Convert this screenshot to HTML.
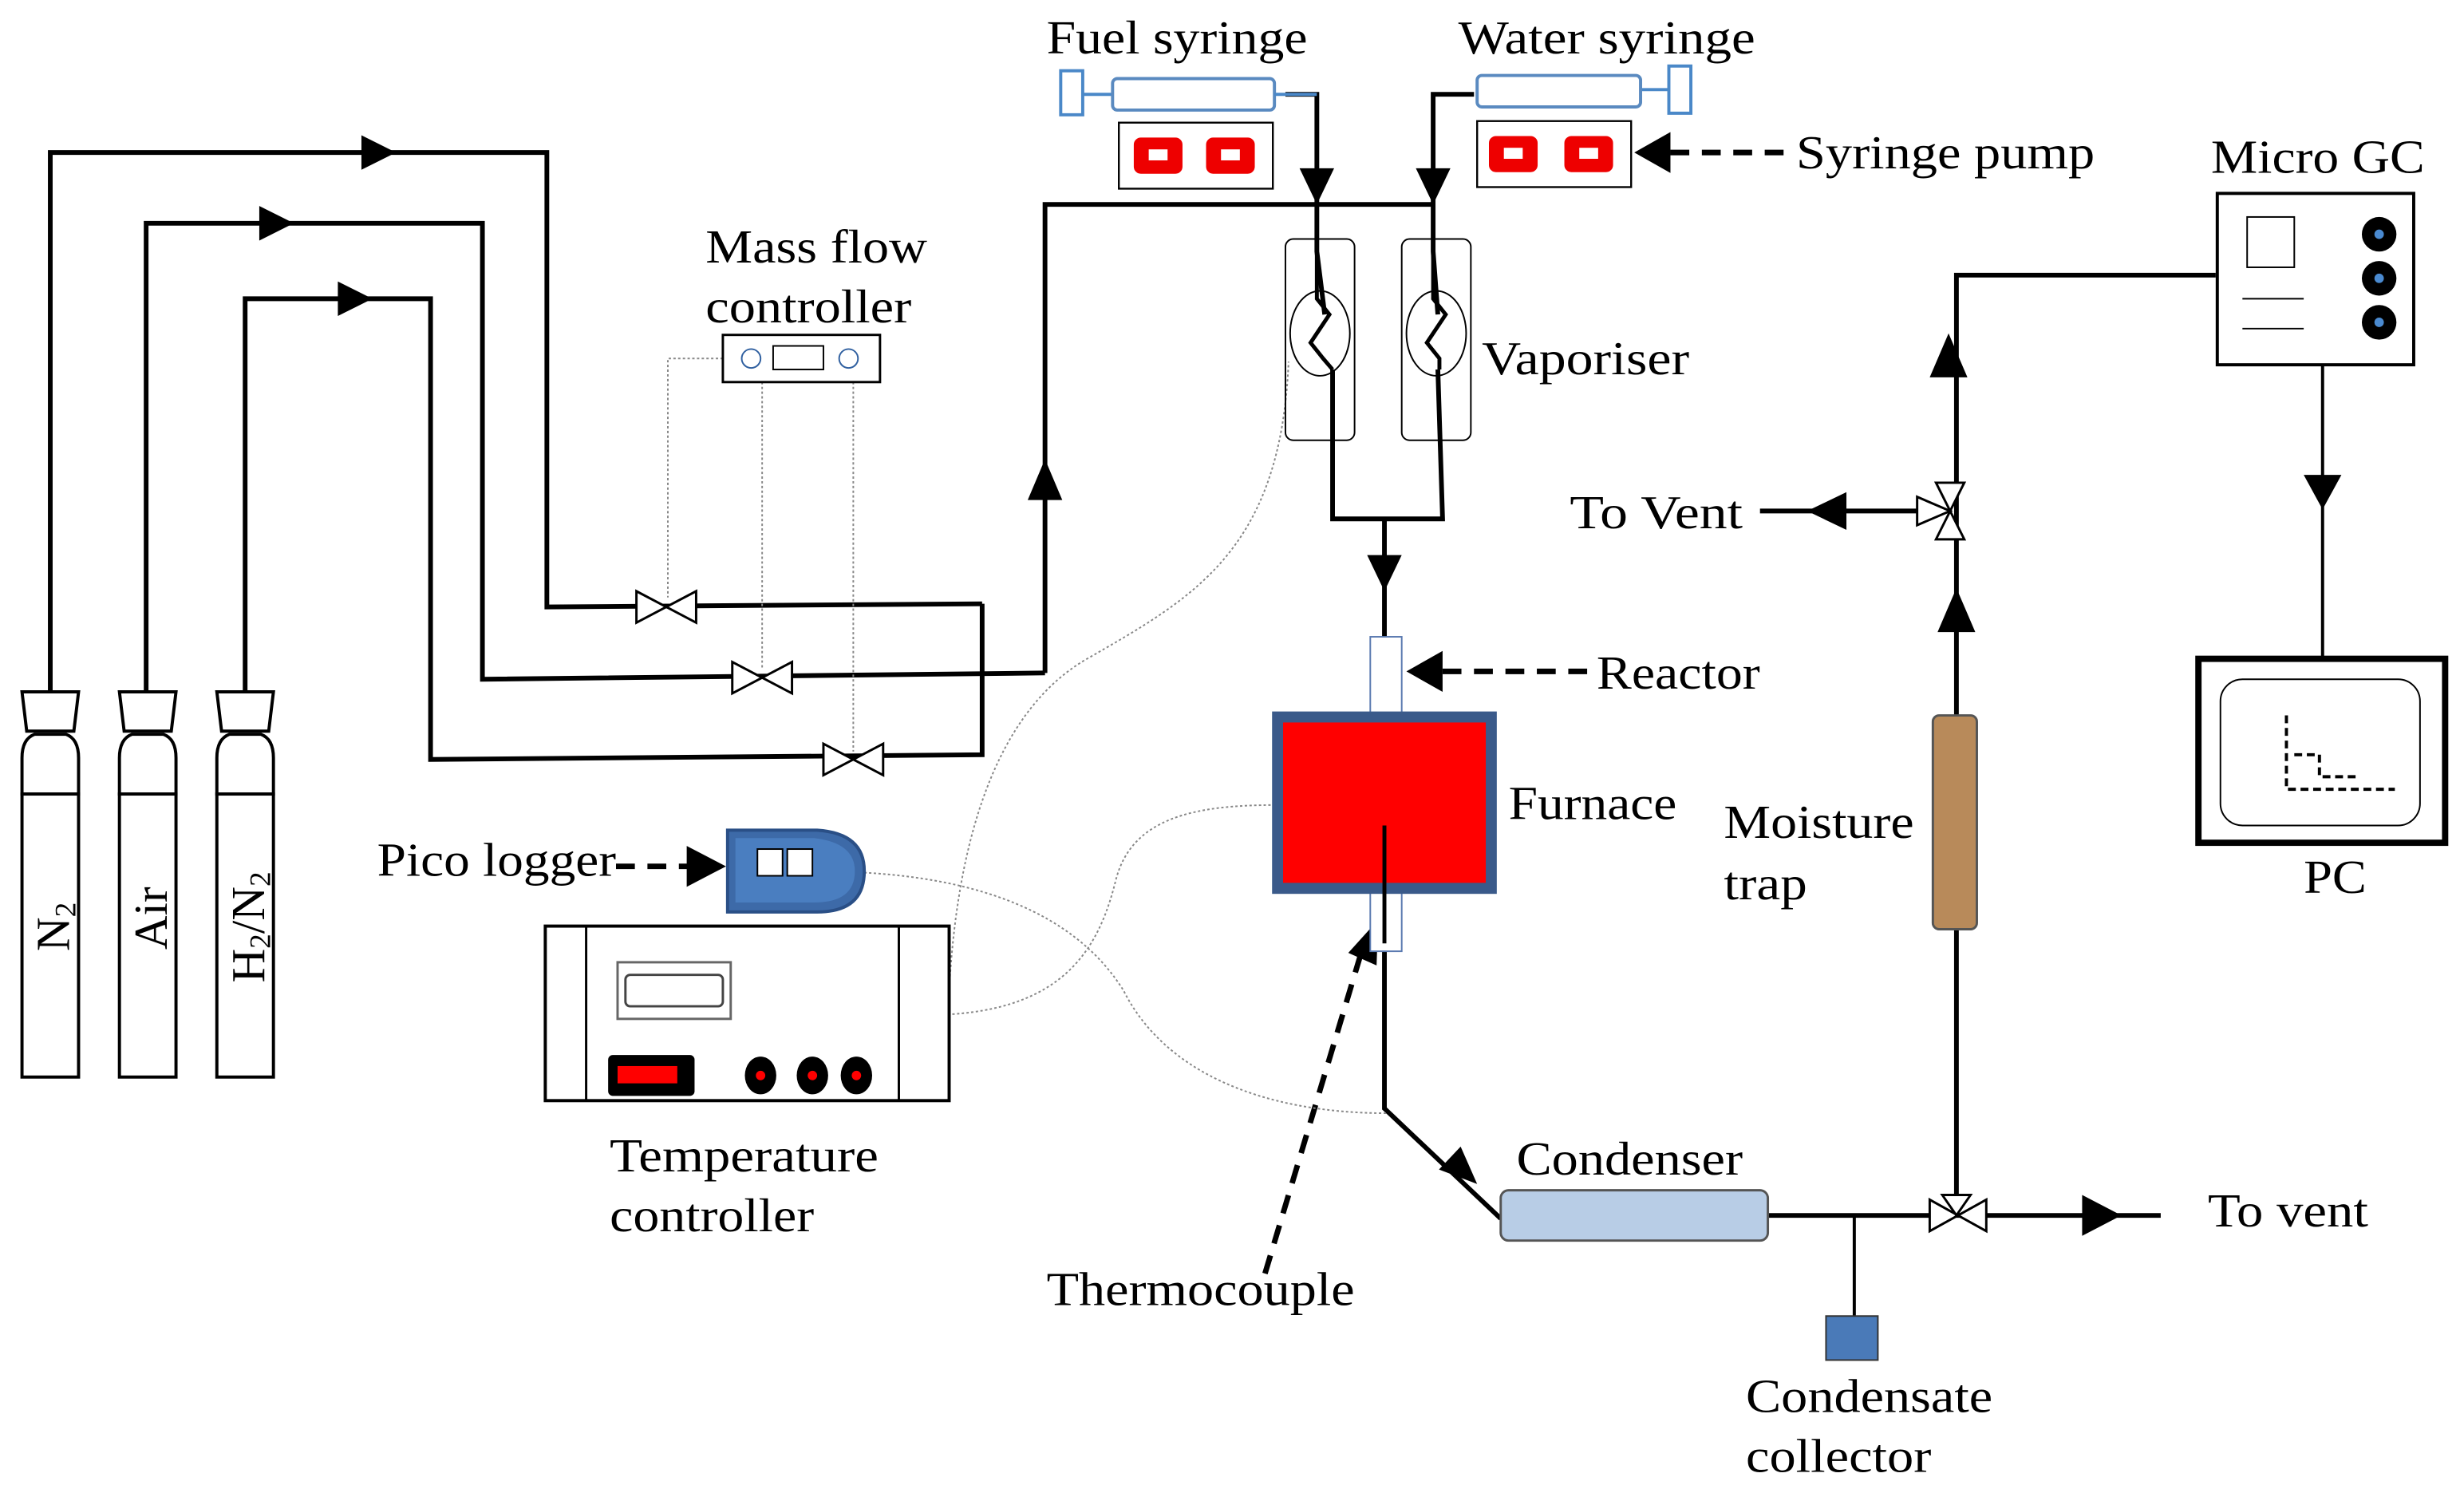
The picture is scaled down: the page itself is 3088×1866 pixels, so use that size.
<!DOCTYPE html>
<html><head><meta charset="utf-8"><style>html,body{margin:0;padding:0;background:#fff}svg{display:block}text{font-family:"Liberation Serif",serif}</style></head>
<body>
<svg width="3088" height="1866" viewBox="0 0 1568 947" preserveAspectRatio="none" xmlns="http://www.w3.org/2000/svg" style="font-family:'Liberation Serif',serif" font-size="30">
<g fill="none" stroke="#000" stroke-width="3">
<polyline points="32,440 32,97 348,97 348,386 625,384"/>
<polyline points="93,440 93,142 307,142 307,432 665,428"/>
<polyline points="156,440 156,190 274,190 274,483 625,480 625,384"/>
<polyline points="665,428 665,130 912,130"/>
<polyline points="818,60 838,60 838,130 838,160 843,200"/>
<polyline points="938,60 912,60 912,130 912,160 915,200"/>
<polyline points="848,235 848,330 918,330 915,235"/>
<line x1="881" y1="330" x2="881" y2="405"/>
<polyline points="881,525 881,705 955,775"/>
<line x1="1125" y1="773" x2="1375" y2="773"/>
<line x1="1180" y1="773" x2="1180" y2="837" stroke-width="2"/>
<polyline points="1245,760 1245,175 1410,175"/>
<line x1="1478" y1="232" x2="1478" y2="418" stroke-width="2"/>
<line x1="1120" y1="325" x2="1230" y2="325"/>
</g>
<g fill="#000">
<path d="M230,86 L252,97 L230,108z"/>
<path d="M165,131 L187,142 L165,153z"/>
<path d="M215,179 L237,190 L215,201z"/>
<path d="M654,318 L665,292 L676,318z"/>
<path d="M827,107 L838,130 L849,107z"/>
<path d="M901,107 L912,130 L923,107z"/>
<path d="M870,353 L881,376 L892,353z"/>
<path d="M1228,240 L1240,212 L1252,240z"/>
<path d="M1233,402 L1245,374 L1257,402z"/>
<path d="M1175,313 L1150,325 L1175,337z"/>
<path d="M1466,302 L1478,324 L1490,302z"/>
<path d="M1325,760 L1350,773 L1325,786z"/>
<path d="M940,753 L915.7,743.8 L929.5,729.2z"/>
</g>
<g stroke="#000" stroke-width="3.5" stroke-dasharray="12,8" fill="none">
<line x1="1135" y1="97" x2="1060" y2="97"/>
<line x1="1010" y1="427" x2="915" y2="427"/>
<line x1="392" y1="551" x2="440" y2="551"/>
<line x1="805" y1="810" x2="868" y2="600"/>
</g>
<g fill="#000">
<path d="M1063,84 L1040,97 L1063,110z"/>
<path d="M918,414 L895,427 L918,440z"/>
<path d="M437,538 L462,551 L437,564z"/>
<path d="M858,606 L877,585 L876,614z"/>
</g>
<g fill="#fff" stroke="#000" stroke-width="1.5">
<path d="M405,376 L405,396 L443,376 L443,396z"/>
<path d="M466,421 L466,441 L504,421 L504,441z"/>
<path d="M524,473 L524,493 L562,473 L562,493z"/>
<path d="M1228,763 L1228,783 L1264,763 L1264,783z"/>
<path d="M1236,760 L1254,760 L1245,773z"/>
<path d="M1232,307 L1250,307 L1241,325 L1232,343 L1250,343z"/>
<path d="M1220,316 L1220,334 L1241,325z"/>
</g>
<g fill="none" stroke="#888" stroke-width="1" stroke-dasharray="1.5,1.5">
<polyline points="460,228 425,228 425,380"/>
<line x1="485" y1="243" x2="485" y2="425"/>
<line x1="543" y1="243" x2="543" y2="478"/>
<path d="M604,630 C610,520 640,450 690,420 C760,380 815,350 820,230"/>
<path d="M606,645 C680,640 700,600 710,560 C720,520 760,512 812,512"/>
<path d="M550,555 C640,560 690,590 715,630 C740,680 800,708 883,708"/>
</g>
<rect x="460" y="213" width="100" height="30" fill="#fff" stroke="#000" stroke-width="1.5"/>
<circle cx="478" cy="228" r="6" fill="#fff" stroke="#3060a0"/>
<circle cx="540" cy="228" r="6" fill="#fff" stroke="#3060a0"/>
<rect x="492" y="220" width="32" height="15" fill="#fff" stroke="#000"/>
<g stroke="#4a88c8" stroke-width="2" fill="#fff">
<rect x="675" y="45" width="14" height="28"/>
<line x1="689" y1="60" x2="708" y2="60"/>
<rect x="708" y="50" width="103" height="20" rx="3" stroke="#5a8ac0"/>
<line x1="811" y1="60" x2="838" y2="60"/>
<rect x="1062" y="42" width="14" height="30"/>
<line x1="1044" y1="57" x2="1062" y2="57"/>
<rect x="940" y="48" width="104" height="20" rx="3" stroke="#5a8ac0"/>
</g>
<g stroke="#000" stroke-width="1.2" fill="#fff">
<rect x="712" y="78" width="98" height="42"/>
<rect x="940" y="77" width="98" height="42"/>
</g>
<g fill="#e00" stroke="#e00">
<rect x="722" y="88" width="30" height="22" rx="4"/><rect x="768" y="88" width="30" height="22" rx="4"/>
<rect x="948" y="87" width="30" height="22" rx="4"/><rect x="996" y="87" width="30" height="22" rx="4"/>
</g>
<g fill="#fff"><rect x="731" y="95" width="12" height="7"/><rect x="777" y="95" width="12" height="7"/><rect x="957" y="94" width="12" height="7"/><rect x="1005" y="94" width="12" height="7"/></g>
<g fill="none" stroke="#000" stroke-width="1">
<rect x="818" y="152" width="44" height="128" rx="5"/>
<rect x="892" y="152" width="44" height="128" rx="5"/>
<ellipse cx="840" cy="212" rx="19" ry="27"/>
<ellipse cx="914" cy="212" rx="19" ry="27"/>
</g>
<g fill="none" stroke="#000" stroke-width="2.5">
<polyline points="838,160 838,190 846,200 834,218 842,228 848,235"/>
<polyline points="912,160 912,190 920,200 908,218 916,228 916,235"/>
</g>
<rect x="872" y="405" width="20" height="200" fill="#fff" stroke="#5a7ab0" stroke-width="1"/>
<rect x="813" y="456" width="136" height="109" fill="#f00" stroke="#3a5a8a" stroke-width="7"/>
<line x1="881" y1="525" x2="881" y2="600" stroke="#000" stroke-width="2.5"/>
<rect x="955" y="757" width="170" height="32" rx="5" fill="#b8cde6" stroke="#555" stroke-width="1.5"/>
<rect x="1162" y="837" width="33" height="28" fill="#4a7ab8" stroke="#333" stroke-width="1"/>
<rect x="1230" y="455" width="28" height="136" rx="4" fill="#b88a5a" stroke="#555" stroke-width="1.5"/>
<rect x="1411" y="123" width="125" height="109" fill="#fff" stroke="#000" stroke-width="2"/>
<rect x="1430" y="138" width="30" height="32" fill="#fff" stroke="#000"/>
<line x1="1427" y1="190" x2="1466" y2="190" stroke="#000"/><line x1="1427" y1="209" x2="1466" y2="209" stroke="#000"/>
<g fill="#000"><circle cx="1514" cy="149" r="11"/><circle cx="1514" cy="177" r="11"/><circle cx="1514" cy="205" r="11"/></g>
<g fill="#4a8ad0"><circle cx="1514" cy="149" r="3"/><circle cx="1514" cy="177" r="3"/><circle cx="1514" cy="205" r="3"/></g>
<rect x="1399" y="419" width="157" height="117" fill="#fff" stroke="#000" stroke-width="4"/>
<rect x="1413" y="432" width="127" height="93" rx="14" fill="#fff" stroke="#000" stroke-width="1"/>
<polyline points="1455,455 1455,502 1524,502" fill="none" stroke="#000" stroke-width="2" stroke-dasharray="5,3"/>
<polyline points="1460,480 1476,480 1476,494 1500,494" fill="none" stroke="#000" stroke-width="2" stroke-dasharray="5,3"/>
<g fill="#fff" stroke="#000" stroke-width="2">
<g><path d="M14,440 L50,440 L47,465 L17,465z"/><path d="M14,505 L14,482 Q14,470 22,467 L42,467 Q50,470 50,482 L50,505z"/><rect x="14" y="505" width="36" height="180"/></g>
<g><path d="M76,440 L112,440 L109,465 L79,465z"/><path d="M76,505 L76,482 Q76,470 84,467 L104,467 Q112,470 112,482 L112,505z"/><rect x="76" y="505" width="36" height="180"/></g>
<g><path d="M138,440 L174,440 L171,465 L141,465z"/><path d="M138,505 L138,482 Q138,470 146,467 L166,467 Q174,470 174,482 L174,505z"/><rect x="138" y="505" width="36" height="180"/></g>
</g>
<g font-size="30">
<text transform="translate(44,605) rotate(-90)">N<tspan font-size="19" dy="4">2</tspan></text>
<text transform="translate(106,604) rotate(-90)">Air</text>
<text transform="translate(168,625) rotate(-90)">H<tspan font-size="19" dy="4">2</tspan><tspan dy="-4">/N</tspan><tspan font-size="19" dy="4">2</tspan></text>
</g>
<path d="M463,528 L520,528 Q550,530 550,554 Q550,580 520,580 L463,580z" fill="#3d6aa8" stroke="#2a4f86" stroke-width="2"/>
<path d="M468,533 L518,533 Q544,536 544,554 Q544,574 518,574 L468,574z" fill="#4a7ec0"/>
<rect x="482" y="540" width="16" height="17" fill="#fff" stroke="#000"/><rect x="501" y="540" width="16" height="17" fill="#fff" stroke="#000"/>
<rect x="347" y="589" width="257" height="111" fill="#fff" stroke="#000" stroke-width="2"/>
<line x1="373" y1="589" x2="373" y2="700" stroke="#000" stroke-width="1.5"/><line x1="572" y1="589" x2="572" y2="700" stroke="#000" stroke-width="1.5"/>
<rect x="393" y="612" width="72" height="36" fill="#fff" stroke="#666" stroke-width="1.5"/>
<rect x="398" y="620" width="62" height="20" rx="3" fill="#fff" stroke="#444" stroke-width="1.5"/>
<rect x="387" y="671" width="55" height="26" rx="3" fill="#000"/><rect x="393" y="678" width="38" height="11" fill="#f00"/>
<g fill="#000"><ellipse cx="484" cy="684" rx="10" ry="12"/><ellipse cx="517" cy="684" rx="10" ry="12"/><ellipse cx="545" cy="684" rx="10" ry="12"/></g>
<g fill="#f00"><circle cx="484" cy="684" r="3"/><circle cx="517" cy="684" r="3"/><circle cx="545" cy="684" r="3"/></g>
<g fill="#000">
<text x="666" y="34" textLength="166" lengthAdjust="spacingAndGlyphs">Fuel syringe</text>
<text x="928" y="34" textLength="189" lengthAdjust="spacingAndGlyphs">Water syringe</text>
<text x="1143" y="107" textLength="190" lengthAdjust="spacingAndGlyphs">Syringe pump</text>
<text x="1407" y="110" textLength="136" lengthAdjust="spacingAndGlyphs">Micro GC</text>
<text x="449" y="167" textLength="141" lengthAdjust="spacingAndGlyphs">Mass flow</text>
<text x="449" y="205" textLength="131" lengthAdjust="spacingAndGlyphs">controller</text>
<text x="943" y="238" textLength="132" lengthAdjust="spacingAndGlyphs">Vaporiser</text>
<text x="999" y="336" textLength="110" lengthAdjust="spacingAndGlyphs">To Vent</text>
<text x="1016" y="438" textLength="104" lengthAdjust="spacingAndGlyphs">Reactor</text>
<text x="960" y="521" textLength="107" lengthAdjust="spacingAndGlyphs">Furnace</text>
<text x="1097" y="533" textLength="121" lengthAdjust="spacingAndGlyphs">Moisture</text>
<text x="1097" y="572" textLength="53" lengthAdjust="spacingAndGlyphs">trap</text>
<text x="1466" y="568" textLength="40" lengthAdjust="spacingAndGlyphs">PC</text>
<text x="240" y="557" textLength="152" lengthAdjust="spacingAndGlyphs">Pico logger</text>
<text x="388" y="745" textLength="171" lengthAdjust="spacingAndGlyphs">Temperature</text>
<text x="388" y="783" textLength="130" lengthAdjust="spacingAndGlyphs">controller</text>
<text x="666" y="830" textLength="196" lengthAdjust="spacingAndGlyphs">Thermocouple</text>
<text x="965" y="747" textLength="144" lengthAdjust="spacingAndGlyphs">Condenser</text>
<text x="1405" y="780" textLength="102" lengthAdjust="spacingAndGlyphs">To vent</text>
<text x="1111" y="898" textLength="157" lengthAdjust="spacingAndGlyphs">Condensate</text>
<text x="1111" y="936" textLength="118" lengthAdjust="spacingAndGlyphs">collector</text>
</g>
</svg>
</body></html>
